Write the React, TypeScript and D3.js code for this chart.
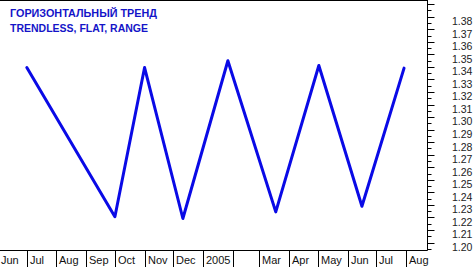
import React from "react";
import * as d3 from "d3";

const pointDates = [
  "2004-07-01", "2004-10-01", "2004-11-01", "2004-12-11", "2005-01-27",
  "2005-03-18", "2005-05-02", "2005-06-16", "2005-07-30",
];
const pointValues = [1.3395, 1.2206, 1.3395, 1.2192, 1.3449, 1.2245, 1.3411, 1.229, 1.339];

const monthStarts = [
  "2004-06-01", "2004-07-01", "2004-08-01", "2004-09-01", "2004-10-01", "2004-11-01",
  "2004-12-01", "2005-01-01", "2005-02-01", "2005-03-01", "2005-04-01", "2005-05-01",
  "2005-06-01", "2005-07-01", "2005-08-01",
];
const monthLabels = ["Jun", "Jul", "Aug", "Sep", "Oct", "Nov", "Dec", "2005", "", "Mar", "Apr", "May", "Jun", "Jul", "Aug"];

const yTickValues = [1.2, 1.21, 1.22, 1.23, 1.24, 1.25, 1.26, 1.27, 1.28, 1.29, 1.3, 1.31, 1.32, 1.33, 1.34, 1.35, 1.36, 1.37, 1.38, 1.39];

const titleLines = ["ГОРИЗОНТАЛЬНЫЙ ТРЕНД", "TRENDLESS, FLAT, RANGE"];

const W = 475;
const H = 267;
const axisX = 427.5;
const axisY = 250.5;

export default function App() {
  const parse = d3.utcParse("%Y-%m-%d");
  const x = d3.scaleUtc()
    .domain([parse("2004-06-03")!, parse("2005-08-24")!])
    .range([0, 428]);
  const y = d3.scaleLinear().domain([1.2, 1.38]).range([242.6, 16.7]);

  const data = pointDates.map((d, i) => ({ d: parse(d)!, v: pointValues[i] }));
  const line = d3.line<{ d: Date; v: number }>().x((p) => x(p.d)).y((p) => y(p.v));

  const minorTicks = d3.range(0, 42).map((i) => 1.195 + i * 0.01).filter((v) => {
    const yy = y(v);
    return yy > 0 && yy < axisY;
  });
  const font = "'Liberation Sans', Arial, sans-serif";

  return (
    <svg width={W} height={H} style={{ position: "absolute", left: 0, top: 0, background: "#fff" }}>
      <rect x={0} y={0} width={W} height={H} fill="#fff" />
      {/* frame */}
      <line x1={0} y1={0.5} x2={axisX} y2={0.5} stroke="#000" strokeWidth={1} />
      <line x1={axisX} y1={0} x2={axisX} y2={axisY} stroke="#000" strokeWidth={1} />
      <line x1={0} y1={axisY} x2={axisX} y2={axisY} stroke="#000" strokeWidth={1} />

      {/* right axis ticks */}
      {yTickValues.map((v) => {
        const yy = Math.round(y(v)) + 0.5;
        return <line key={"M" + v} x1={axisX} x2={axisX + 7} y1={yy} y2={yy} stroke="#000" />;
      })}
      {minorTicks.map((v) => {
        const yy = Math.round(y(v)) + 0.5;
        return <line key={"m" + v} x1={axisX} x2={axisX + 4} y1={yy} y2={yy} stroke="#000" />;
      })}
      {yTickValues.filter((v) => v <= 1.385).map((v) => (
        <text key={"l" + v} x={452} y={y(v) + 8.3} fontFamily={font} fontSize={10.5} fill="#222">
          {v.toFixed(2)}
        </text>
      ))}

      {/* bottom month separators and labels */}
      {monthStarts.map((m, i) => {
        const xx = Math.round(x(parse(m)!)) + 0.5;
        return (
          <g key={"mo" + i}>
            <line x1={xx} x2={xx} y1={axisY} y2={H} stroke="#000" />
            {monthLabels[i] && (
              <text x={xx + 2.5} y={263.5} fontFamily={font} fontSize={11} fill="#111">
                {monthLabels[i]}
              </text>
            )}
          </g>
        );
      })}

      {/* series */}
      <path d={line(data) || ""} fill="none" stroke="#0a0ae6" strokeWidth={3} strokeLinejoin="round" strokeLinecap="round" />

      {/* title */}
      <text x={10} y={17.3} fontFamily={font} fontWeight="bold" fontSize={11.5} fill="#1414c8"
        textLength={147} lengthAdjust="spacingAndGlyphs">{titleLines[0]}</text>
      <text x={10} y={31.5} fontFamily={font} fontWeight="bold" fontSize={11.5} fill="#1414c8"
        textLength={138} lengthAdjust="spacingAndGlyphs">{titleLines[1]}</text>
    </svg>
  );
}
